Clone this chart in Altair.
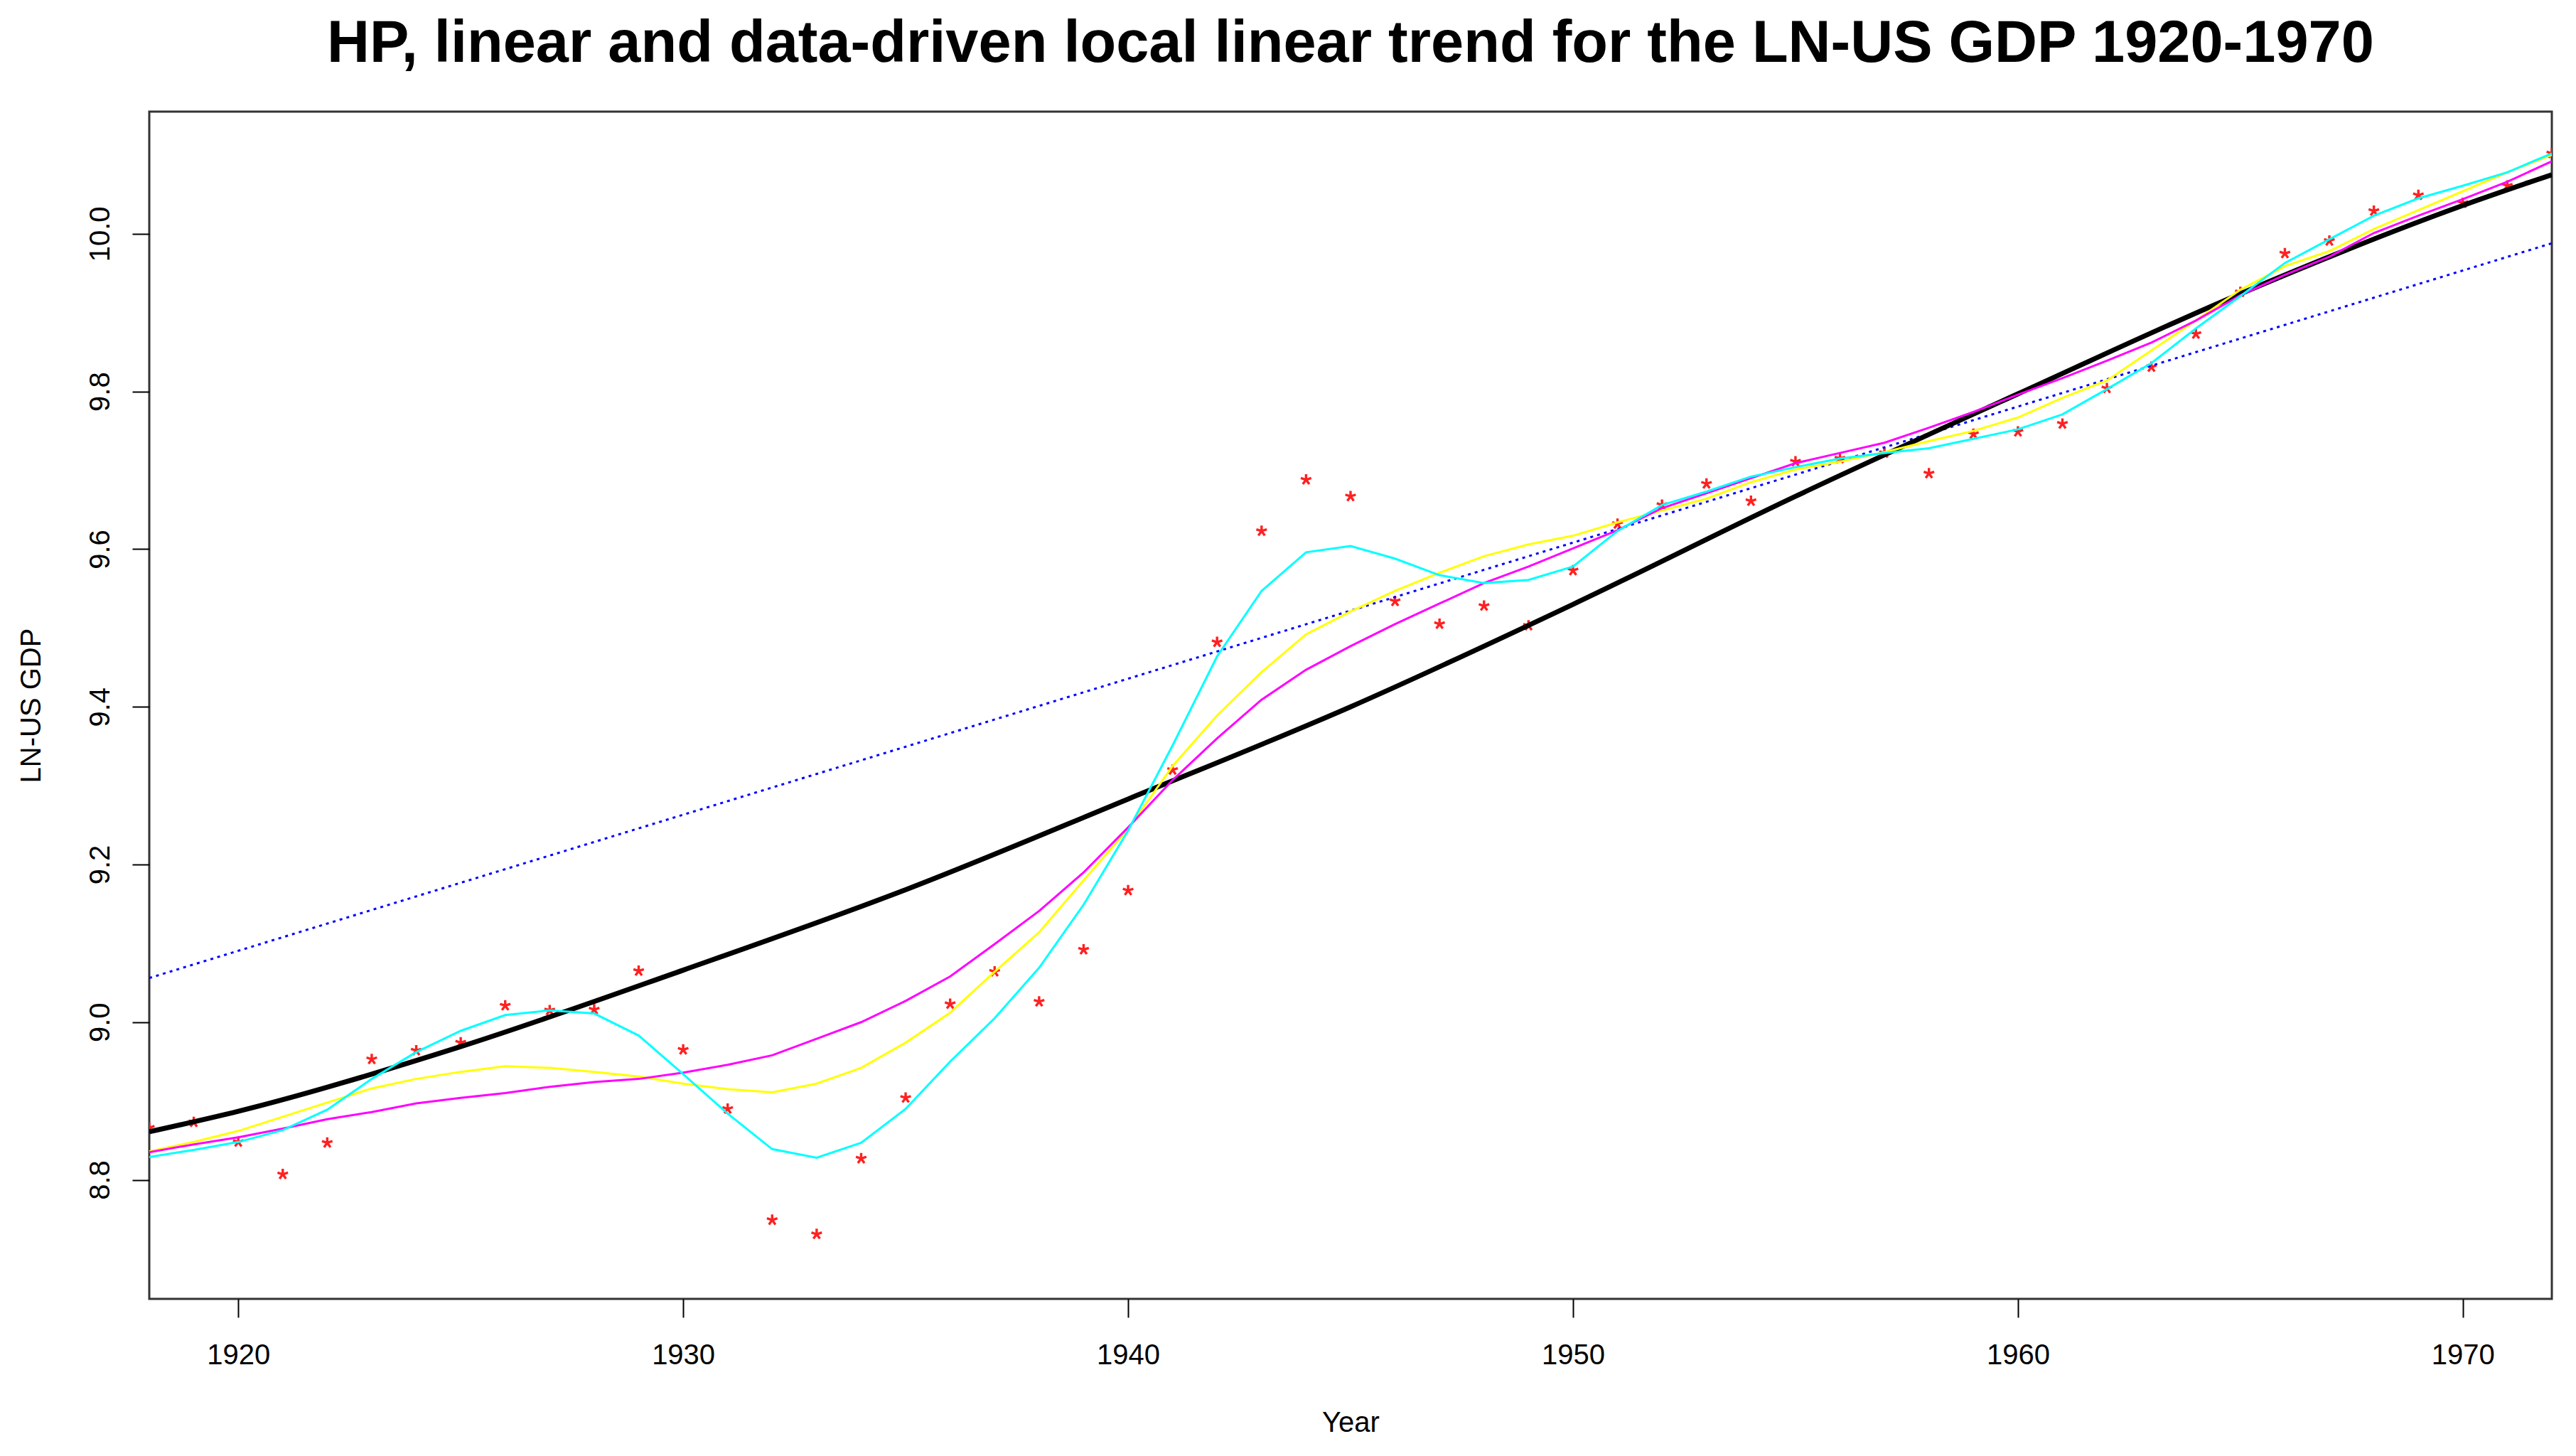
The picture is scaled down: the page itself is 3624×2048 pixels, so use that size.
import altair as alt
import pandas as pd

# ---------------- data ----------------
years = list(range(1918, 1973))

gdp = [8.866, 8.873, 8.848, 8.807, 8.847, 8.953, 8.964, 8.974, 9.021, 9.015,
       9.016, 9.065, 8.965, 8.890, 8.749, 8.731, 8.827, 8.904, 9.023, 9.064,
       9.026, 9.092, 9.167, 9.320, 9.482, 9.623, 9.688, 9.667, 9.534, 9.505,
       9.528, 9.503, 9.573, 9.632, 9.656, 9.683, 9.661, 9.711, 9.715, 9.722,
       9.696, 9.746, 9.749, 9.759, 9.804, 9.831, 9.873, 9.926, 9.975, 9.991,
       10.029, 10.049, 10.039, 10.061, 10.102]

cyan_trend = [8.829, 8.838, 8.848, 8.863, 8.889, 8.928, 8.962, 8.989, 9.009, 9.015,
              9.011, 8.983, 8.934, 8.884, 8.839, 8.828, 8.847, 8.890, 8.950, 9.005,
              9.069, 9.149, 9.243, 9.351, 9.464, 9.547, 9.596, 9.604, 9.588, 9.567,
              9.557, 9.561, 9.578, 9.623, 9.656, 9.673, 9.692, 9.704, 9.715, 9.722,
              9.728, 9.740, 9.752, 9.771, 9.803, 9.836, 9.880, 9.921, 9.963, 9.993,
              10.023, 10.045, 10.061, 10.078, 10.102]

yellow_trend = [8.836, 8.848, 8.862, 8.880, 8.898, 8.916, 8.928, 8.937, 8.944, 8.942,
                8.937, 8.931, 8.922, 8.915, 8.911, 8.922, 8.942, 8.974, 9.012, 9.064,
                9.114, 9.180, 9.245, 9.325, 9.389, 9.444, 9.492, 9.521, 9.547, 9.570,
                9.591, 9.606, 9.617, 9.634, 9.649, 9.664, 9.685, 9.701, 9.711, 9.723,
                9.737, 9.750, 9.767, 9.792, 9.814, 9.852, 9.890, 9.929, 9.959, 9.978,
                10.006, 10.030, 10.054, 10.078, 10.100]

magenta_trend = [8.835, 8.845, 8.854, 8.865, 8.877, 8.886, 8.897, 8.904, 8.910, 8.918,
                 8.924, 8.928, 8.936, 8.946, 8.958, 8.979, 9.000, 9.027, 9.058, 9.099,
                 9.141, 9.190, 9.247, 9.307, 9.360, 9.409, 9.447, 9.477, 9.505, 9.531,
                 9.557, 9.578, 9.601, 9.624, 9.652, 9.671, 9.690, 9.709, 9.722, 9.735,
                 9.754, 9.774, 9.796, 9.817, 9.839, 9.862, 9.890, 9.922, 9.948, 9.971,
                 10.001, 10.023, 10.044, 10.066, 10.092]

hp_years = [1918, 1920, 1925, 1930, 1935, 1940, 1945, 1950, 1955, 1960, 1965, 1970, 1972]
hp_trend = [8.861, 8.887, 8.969, 9.066, 9.168, 9.283, 9.400, 9.530, 9.667, 9.797,
            9.924, 10.036, 10.075]

lin_years = [1918, 1972]
lin_trend = [9.056, 9.988]

x_ticks = [1920, 1930, 1940, 1950, 1960, 1970]
y_ticks = [8.8, 9.0, 9.2, 9.4, 9.6, 9.8, 10.0]

TITLE = "HP, linear and data-driven local linear trend for the LN-US GDP 1920-1970"
FONT = "Liberation Sans"

# ---------------- scales / axes ----------------
xscale = alt.Scale(domain=[1918, 1972], nice=False, zero=False)
yscale = alt.Scale(domain=[8.649, 10.155], nice=False, zero=False)

xaxis = alt.Axis(values=x_ticks, format="d", title="Year", domain=False, grid=False,
                 tickSize=26, tickWidth=2, tickColor="black",
                 labelFont=FONT, labelFontSize=40, labelColor="black",
                 labelBaseline="alphabetic", labelPadding=65, labelFlush=False,
                 labelOverlap=False,
                 titleFont=FONT, titleFontSize=40, titleFontWeight="normal",
                 titleColor="black", titleBaseline="alphabetic", titleY=186)

yaxis = alt.Axis(values=y_ticks, format=".1f", title="LN-US GDP", domain=False, grid=False,
                 tickSize=24, tickWidth=2, tickColor="black",
                 labelFont=FONT, labelFontSize=40, labelColor="black",
                 labelAngle=270, labelAlign="center", labelBaseline="alphabetic",
                 labelPadding=33, labelFlush=False, labelOverlap=False,
                 titleFont=FONT, titleFontSize=40, titleFontWeight="normal",
                 titleColor="black", titleAngle=270, titleAlign="center",
                 titleBaseline="alphabetic", titleX=-154, titleY=835)


def enc(ch):
    return ch.encode(x=alt.X("year:Q", scale=xscale, axis=xaxis),
                     y=alt.Y("value:Q", scale=yscale, axis=yaxis))


df_pts = pd.DataFrame({"year": years, "value": gdp})
df_cyan = pd.DataFrame({"year": years, "value": cyan_trend})
df_yellow = pd.DataFrame({"year": years, "value": yellow_trend})
df_mag = pd.DataFrame({"year": years, "value": magenta_trend})
df_hp = pd.DataFrame({"year": hp_years, "value": hp_trend})
df_lin = pd.DataFrame({"year": lin_years, "value": lin_trend})

ASTERISK = ("M0,0L0,-1M0,0L0.951,-0.309M0,0L0.588,0.809"
            "M0,0L-0.588,0.809M0,0L-0.951,-0.309")

points = enc(alt.Chart(df_pts).mark_point(shape=ASTERISK, size=240, filled=False,
                                           stroke="#ff2020", strokeWidth=3.4,
                                           opacity=1, clip=True))
lin = enc(alt.Chart(df_lin).mark_line(color="#0000ff", strokeWidth=3,
                                      strokeDash=[4, 6], clip=True))
hp = enc(alt.Chart(df_hp).mark_line(color="black", strokeWidth=7,
                                    interpolate="monotone", clip=True))
yellow = enc(alt.Chart(df_yellow).mark_line(color="#ffff00", strokeWidth=3, clip=True))
magenta = enc(alt.Chart(df_mag).mark_line(color="#ff00ff", strokeWidth=3, clip=True))
cyan = enc(alt.Chart(df_cyan).mark_line(color="#00ffff", strokeWidth=3, clip=True))

chart = alt.layer(points, lin, hp, yellow, magenta, cyan).properties(
    width=3380,
    height=1670,
    title=alt.TitleParams(text=TITLE, font=FONT, fontSize=83, fontWeight="bold",
                          color="black", anchor="middle", frame="group",
                          baseline="alphabetic", offset=65, dy=78),
    autosize=alt.AutoSizeParams(type="none"),
    padding={"left": 210, "top": 157, "right": 34, "bottom": 221},
).configure(
    background="white",
    view=alt.ViewConfig(stroke="#333333", strokeWidth=3),
)

chart.save("out.html", embed_options={"renderer": "svg", "actions": False})
